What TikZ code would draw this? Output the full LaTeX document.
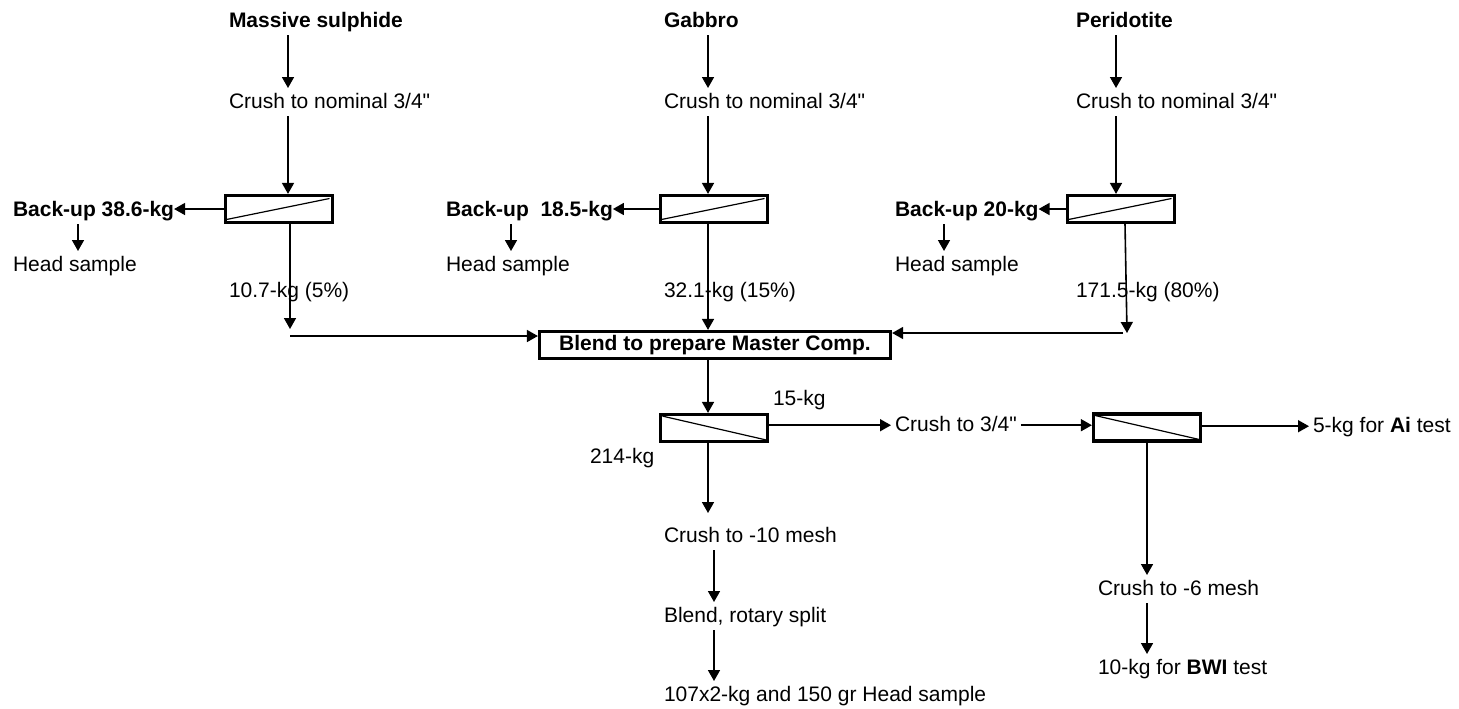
\documentclass[tikz,border=0pt]{standalone}
\usepackage{fontspec}
\setmainfont{Liberation Sans}[Ligatures=TeXOff]
\usetikzlibrary{arrows.meta}
\begin{document}
\begin{tikzpicture}[x=0.5pt,y=-0.5pt]
        \tikzstyle{every node}+=[inner sep=0pt, outer sep=2pt, font=\fontsize{10.5}{12.6}\selectfont, text height=8pt, text depth=2.2pt]
        \tikzstyle{txt}=[anchor=base west, xshift=-2pt]
        \tikzstyle{arr}=[black, line width=0.8pt, -{Triangle[length=5.5pt,width=6pt]}]
        \tikzstyle{splitbox}=[draw, line width=1.6pt, minimum width=53.5pt, minimum height=13.5pt, outer sep=0.8pt]
        \tikzstyle{splitup}=[splitbox, path picture={\draw[line width=0.6pt] ([xshift=0.5pt,yshift=1.5pt]path picture bounding box.south west) -- ([xshift=-1.5pt,yshift=-1.5pt]path picture bounding box.north east);}]
        \tikzstyle{splitdown}=[splitbox, path picture={\draw[line width=0.6pt] ([xshift=1pt,yshift=-0.8pt]path picture bounding box.north west) -- ([xshift=-0.8pt,yshift=0.8pt]path picture bounding box.south east);}]
        \useasboundingbox (0,0) rectangle (1459,708);
        \node [txt] (msul) at (229,27) {\textbf{Massive sulphide}};
        \node [txt] (gab) at (664,27) {\textbf{Gabbro}};
        \node [txt] (peri) at (1076,27) {\textbf{Peridotite}};
        \node [txt] (crA) at (229,108) {Crush to nominal 3/4"};
        \node [txt] (crB) at (664,108) {Crush to nominal 3/4"};
        \node [txt] (crC) at (1076,108) {Crush to nominal 3/4"};
        \node [splitup] (spA) at (279,209) {};
        \node [splitup] (spB) at (714,209) {};
        \node [splitup] (spC) at (1121,209) {};
        \node [txt] (bkA) at (13,216) {\textbf{Back-up 38.6-kg}};
        \node [txt] (bkB) at (446,216) {\textbf{Back-up~~18.5-kg}};
        \node [txt] (bkC) at (895,216) {\textbf{Back-up 20-kg}};
        \node [txt] (hsA) at (13,271) {Head sample};
        \node [txt] (hsB) at (446,271) {Head sample};
        \node [txt] (hsC) at (895,271) {Head sample};
        \node [txt] (wA) at (229,297) {10.7-kg (5\%)};
        \node [txt] (wB) at (664,297) {32.1-kg (15\%)};
        \node [txt] (wC) at (1076,297) {171.5-kg (80\%)};
        \node [draw, line width=1.6pt, minimum width=175.5pt, minimum height=13.5pt, outer sep=0.8pt] (blend) at (715,345) {\textbf{Blend to prepare Master Comp.}};
        \node [splitdown] (spD) at (714,428) {};
        \node [txt] (kg15) at (773,405) {15-kg};
        \node [txt] (kg214) at (590,463) {214-kg};
        \node [txt] (cr34) at (895,431) {Crush to 3/4"};
        \node [splitdown] (spE) at (1147,427.5) {};
        \node [txt] (ai) at (1313,432) {5-kg for \textbf{Ai} test};
        \node [txt] (m10) at (664,542) {Crush to -10 mesh};
        \node [txt] (rot) at (664,622) {Blend, rotary split};
        \node [txt] (hd) at (664,701) {107x2-kg and 150 gr Head sample};
        \node [txt] (m6) at (1098,595) {Crush to -6 mesh};
        \node [txt] (bwi) at (1098,674) {10-kg for \textbf{BWI} test};
        \coordinate (xA) at (288,0);
        \coordinate (xB) at (708,0);
        \coordinate (xC) at (1116,0);
        \coordinate (sC) at (1125,0);
        \coordinate (tA) at (290,329);
        \coordinate (jA) at (290,336);
        \coordinate (tC) at (1127,333);
        \coordinate (jC) at (1123,333);
        \coordinate (hA) at (78,0);
        \coordinate (hB) at (511,0);
        \coordinate (hC) at (944,0);
        \coordinate (xM) at (714,0);
        \coordinate (xE) at (1147,0);
        \draw [arr] (msul.south -| xA) -- (crA.north -| xA);
        \draw [arr] (crA.south -| xA) -- (spA.north -| xA);
        \draw [arr, shorten >=-2pt] (spA.west) -- (spA.west -| bkA.east);
        \draw [arr] (bkA.south -| hA) -- (hsA.north -| hA);
        \draw [arr] (spA.south -| tA) -- (tA);
        \draw [arr] (jA) -- (jA -| blend.west);
        \draw [arr] (gab.south -| xB) -- (crB.north -| xB);
        \draw [arr] (crB.south -| xB) -- (spB.north -| xB);
        \draw [arr, shorten >=-2pt] (spB.west) -- (spB.west -| bkB.east);
        \draw [arr] (bkB.south -| hB) -- (hsB.north -| hB);
        \draw [arr] (spB.south -| xB) -- (blend.north -| xB);
        \draw [arr] (peri.south -| xC) -- (crC.north -| xC);
        \draw [arr] (crC.south -| xC) -- (spC.north -| xC);
        \draw [arr, shorten >=-2pt] (spC.west) -- (spC.west -| bkC.east);
        \draw [arr] (bkC.south -| hC) -- (hsC.north -| hC);
        \draw [arr] (spC.south -| sC) -- (tC);
        \draw [arr] (jC) -- (jC -| blend.east);
        \draw [arr] (blend.south -| xB) -- (spD.north -| xB);
        \draw [arr] (spD.east |- cr34.west) -- (cr34.west);
        \draw [arr] (cr34.east) -- (cr34.east -| spE.west);
        \draw [arr] (spE.east |- ai.west) -- (ai.west);
        \draw [arr, shorten >=4.5pt] (spD.south -| xB) -- (m10.north -| xB);
        \draw [arr] (m10.south -| xM) -- (rot.north -| xM);
        \draw [arr] (rot.south -| xM) -- (hd.north -| xM);
        \draw [arr] (spE.south -| xE) -- (m6.north -| xE);
        \draw [arr] (m6.south -| xE) -- (bwi.north -| xE);
\end{tikzpicture}
\end{document}
